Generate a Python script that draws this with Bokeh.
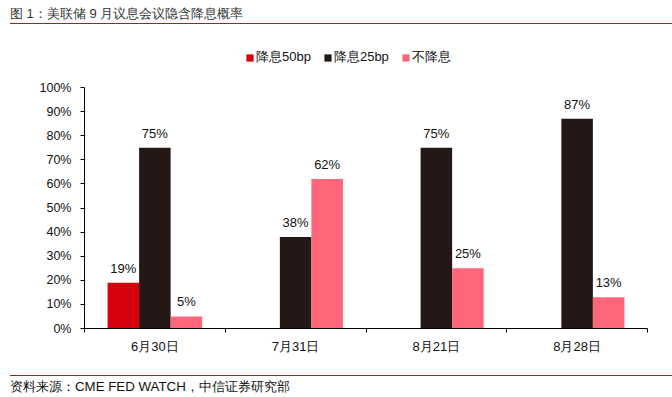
import numpy as np
from bokeh.plotting import figure
from bokeh.layouts import column
from bokeh.models import (ColumnDataSource, FixedTicker, Range1d, Div,
                          Legend, LegendItem)
from bokeh.core.properties import value
from bokeh.transform import dodge
from bokeh.embed import file_html
from bokeh.resources import INLINE

# ---- data ----
categories = ["6月30日", "7月31日", "8月21日", "8月28日"]
series_names = ["降息50bp", "降息25bp", "不降息"]
cut50 = [19, 0, 0, 0]
cut25 = [75, 38, 75, 87]
hold = [5, 62, 25, 13]
y_ticks = [0, 10, 20, 30, 40, 50, 60, 70, 80, 90, 100]
title_text = "图 1：美联储 9 月议息会议隐含降息概率"
source_text = "资料来源：CME FED WATCH，中信证券研究部"

colors = ["#D7000F", "#231815", "#FF6679"]
FONT = "Liberation Sans"
W = 672
TITLE_H = 24
FIG_H = 351
SRC_H = 22

# frame: x 84..647, y 44..328 (0..100% occupies 87..328, headroom above for legend)
FRAME_TOP, AXIS_TOP, AXIS_BOTTOM = 44, 87, 328
y_max = 100 * (AXIS_BOTTOM - FRAME_TOP) / (AXIS_BOTTOM - AXIS_TOP)

p = figure(width=W, height=FIG_H, output_backend="svg", toolbar_location=None,
           x_range=Range1d(0, len(categories)), y_range=Range1d(0, y_max),
           min_border_left=84, min_border_right=25,
           min_border_top=FRAME_TOP - TITLE_H,
           min_border_bottom=TITLE_H + FIG_H - AXIS_BOTTOM, margin=0)
p.outline_line_color = None
p.xgrid.visible = False
p.ygrid.visible = False
p.background_fill_color = "white"
p.border_fill_color = "white"

centers = (np.arange(len(categories)) + 0.5).tolist()
src = ColumnDataSource(dict(x=centers, cut50=cut50, cut25=cut25, hold=hold))

bw = 0.224
offsets = [-bw, 0.0, bw]
fields = ["cut50", "cut25", "hold"]
renderers = []
for f, off, c in zip(fields, offsets, colors):
    r = p.vbar(x=dodge("x", off, range=p.x_range), top=f, width=bw, bottom=0,
               source=src, fill_color=c, line_color=None)
    renderers.append(r)
    vals = src.data[f]
    lx = [centers[i] for i, v in enumerate(vals) if v > 0]
    ly = [v for v in vals if v > 0]
    lt = [f"{v}%" for v in vals if v > 0]
    lsrc = ColumnDataSource(dict(x=lx, y=ly, t=lt))
    p.text(x=dodge("x", off, range=p.x_range), y="y", text="t", source=lsrc,
           text_align="center", text_baseline="bottom", y_offset=-7,
           text_font=value(FONT), text_font_size="13px", text_color="#111111")

# y axis (line and ticks only over 0..100%)
yax = p.yaxis[0]
yax.ticker = FixedTicker(ticks=y_ticks, minor_ticks=[])
yax.bounds = (0, 100)
yax.major_label_overrides = {v: f"{v}%" for v in y_ticks}
yax.major_tick_in = 0
yax.major_tick_out = 4
yax.minor_tick_in = 0
yax.minor_tick_out = 0
yax.axis_line_color = "black"
yax.major_tick_line_color = "black"
yax.major_label_text_font = FONT
yax.major_label_text_font_size = "12.5px"
yax.major_label_text_color = "#111111"
yax.major_label_standoff = 9

# x axis: labels at category centers, ticks at category boundaries
xax = p.xaxis[0]
xax.ticker = FixedTicker(ticks=centers,
                         minor_ticks=list(range(len(categories) + 1)))
xax.major_label_overrides = {c: lab for c, lab in zip(centers, categories)}
xax.major_tick_in = 0
xax.major_tick_out = 0
xax.minor_tick_in = 0
xax.minor_tick_out = 4
xax.minor_tick_line_color = "black"
xax.axis_line_color = "black"
xax.major_label_text_font = FONT
xax.major_label_text_font_size = "13px"
xax.major_label_text_color = "#111111"
xax.major_label_standoff = 6

# legend in the headroom above 100%
legend = Legend(items=[LegendItem(label=n, renderers=[r])
                       for n, r in zip(series_names, renderers)],
                orientation="horizontal", location=(161, 262),
                glyph_width=9, glyph_height=9, label_standoff=2, spacing=12,
                padding=0, margin=0, border_line_color=None,
                background_fill_alpha=0,
                label_text_font=FONT, label_text_font_size="13px",
                label_text_color="#111111", label_height=9)
p.add_layout(legend, "center")

title_div = Div(text=title_text, width=W - 10, height=TITLE_H,
                margin=(0, 0, 0, 10),
                styles={"border-bottom": "1.5px solid #A31F24",
                        "font-family": FONT, "font-size": "13px",
                        "line-height": "20px", "padding-top": "4px",
                        "color": "#333333", "box-sizing": "border-box",
                        "white-space": "nowrap"})
src_div = Div(text=source_text, width=W - 10, height=SRC_H,
              margin=(0, 0, 0, 10),
              styles={"border-top": "1.2px solid #A31F24",
                      "font-family": FONT, "font-size": "13.3px",
                      "line-height": "21px", "color": "#111111",
                      "box-sizing": "border-box", "white-space": "nowrap"})

layout = column(title_div, p, src_div, spacing=0, margin=0)
open("out.html", "w").write(file_html(layout, INLINE))
